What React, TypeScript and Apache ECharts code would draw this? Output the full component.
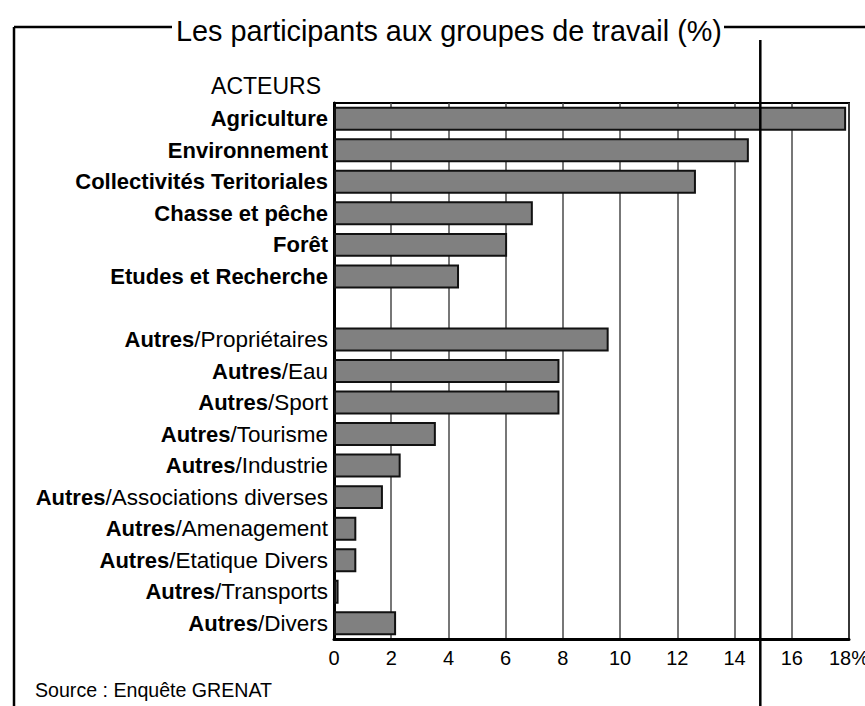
import React, { useEffect, useRef } from "react";
import * as echarts from "echarts";

const categories: string[] = [
  "Agriculture",
  "Environnement",
  "Collectivités Teritoriales",
  "Chasse et pêche",
  "Forêt",
  "Etudes et Recherche",
  "",
  "Autres/Propriétaires",
  "Autres/Eau",
  "Autres/Sport",
  "Autres/Tourisme",
  "Autres/Industrie",
  "Autres/Associations diverses",
  "Autres/Amenagement",
  "Autres/Etatique Divers",
  "Autres/Transports",
  "Autres/Divers",
];

const values: (number | null)[] = [
  17.9, 14.5, 12.65, 6.95, 6.05, 4.37, null, 9.6, 7.88, 7.88, 3.56, 2.33, 1.71, 0.78, 0.78, 0.16, 2.17,
];

const markerValue = 14.9;

const FONT = '"Liberation Sans", Arial, Helvetica, sans-serif';

export default function App() {
  const ref = useRef<HTMLDivElement>(null);

  useEffect(() => {
    if (!ref.current) return;
    const chart = echarts.init(ref.current, undefined, { renderer: "svg" });
    chart.setOption({
      animation: false,
      textStyle: { fontFamily: FONT },
      grid: {
        left: 334,
        right: 16,
        top: 103,
        bottom: 67,
        outerBoundsMode: "none",
        containLabel: false,
        show: true,
        borderColor: "#000",
        borderWidth: 2,
        backgroundColor: "transparent",
      },
      xAxis: {
        type: "value",
        min: 0,
        max: 18,
        interval: 2,
        axisLine: { show: true, lineStyle: { color: "#000", width: 3 } },
        axisTick: { show: false },
        splitLine: { show: true, lineStyle: { color: "#4a4a4a", width: 1.5 } },
        axisLabel: {
          color: "#000",
          fontSize: 20,
          fontFamily: FONT,
          margin: 9,
          hideOverlap: false,
          formatter: (v: number) => (v === 18 ? "18%" : String(v)),
        },
      },
      yAxis: {
        type: "category",
        data: categories,
        inverse: true,
        axisLine: { show: true, lineStyle: { color: "#000", width: 3 } },
        axisTick: { show: false },
        axisLabel: {
          color: "#000",
          fontSize: 22,
          fontFamily: FONT,
          margin: 6,
          interval: 0,
          formatter: (v: string) => {
            if (!v) return "";
            if (v.startsWith("Autres/")) return "{b|Autres}{n|" + v.slice(6) + "}";
            return "{b|" + v + "}";
          },
          rich: {
            b: { fontWeight: "bold", fontSize: 22, fontFamily: FONT, color: "#000" },
            n: { fontWeight: "normal", fontSize: 22.5, fontFamily: FONT, color: "#000" },
          },
        },
      },
      series: [
        {
          type: "bar",
          data: values,
          barCategoryGap: "24%",
          itemStyle: { color: "#808080", borderColor: "#111", borderWidth: 2 },
        },
      ],
    });

    const mx = chart.convertToPixel({ xAxisIndex: 0 }, markerValue) as number;

    chart.setOption({
      graphic: [
        {
          type: "line",
          shape: { x1: 14, y1: 27, x2: 14, y2: 706 },
          style: { stroke: "#000", lineWidth: 2.5 },
        },
        {
          type: "line",
          shape: { x1: 14, y1: 27, x2: 172, y2: 27 },
          style: { stroke: "#000", lineWidth: 2.5 },
        },
        {
          type: "line",
          shape: { x1: 724, y1: 27, x2: 865, y2: 27 },
          style: { stroke: "#000", lineWidth: 2.5 },
        },
        {
          type: "line",
          shape: { x1: mx, y1: 40, x2: mx, y2: 706 },
          style: { stroke: "#000", lineWidth: 2.5 },
          z: 10,
        },
        {
          type: "text",
          x: 449,
          y: 31,
          style: {
            text: "Les participants aux groupes de travail (%)",
            font: "28.8px " + FONT,
            fill: "#000",
            align: "center",
            verticalAlign: "middle",
          },
        },
        {
          type: "text",
          x: 321,
          y: 86,
          style: {
            text: "ACTEURS",
            font: "23px " + FONT,
            fill: "#000",
            align: "right",
            verticalAlign: "middle",
          },
        },
        {
          type: "text",
          x: 35,
          y: 690,
          style: {
            text: "Source : Enquête GRENAT",
            font: "19.6px " + FONT,
            fill: "#000",
            align: "left",
            verticalAlign: "middle",
          },
        },
      ],
    });

    return () => chart.dispose();
  }, []);

  return (
    <div
      ref={ref}
      style={{ position: "fixed", left: 0, top: 0, width: 865, height: 706, background: "#fff" }}
    />
  );
}
